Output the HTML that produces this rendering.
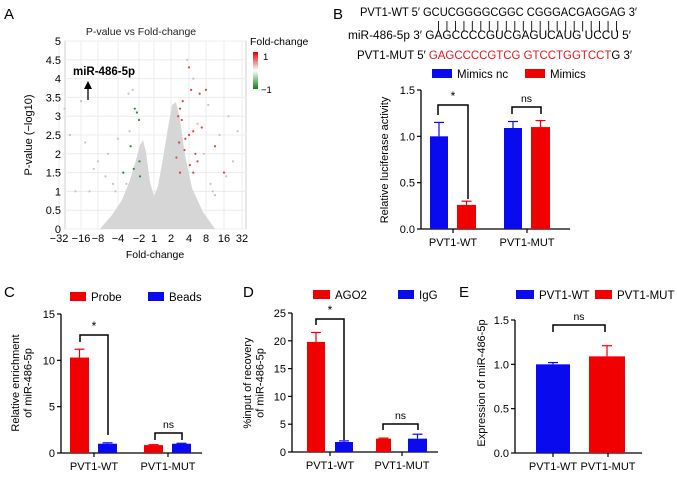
<!DOCTYPE html>
<html><head><meta charset="utf-8"><style>
html,body{margin:0;padding:0;background:#fff}
svg{display:block;font-family:"Liberation Sans",Arial,sans-serif}
</style></head><body>
<svg id="fig" width="677" height="477" viewBox="0 0 677 477" xmlns="http://www.w3.org/2000/svg">
<defs><linearGradient id="cb" x1="0" y1="0" x2="0" y2="1"><stop offset="0" stop-color="#e00000"/><stop offset="0.5" stop-color="#ffffff"/><stop offset="1" stop-color="#108010"/></linearGradient></defs>
<g id="pa">
<text x="4" y="19" font-size="15">A</text>
<text x="141" y="35" font-size="10.5" text-anchor="middle" fill="#222">P-value vs Fold-change</text>
<rect x="65" y="41" width="181" height="188" fill="#fff" stroke="#cfcfcf"/>
<g id="agrid"></g>
<polygon points="100,229 112,215 122,200 130,180 136,160 140,145 143,140 146,152 150,182 154,196 158,186 163,158 168,128 172,105 176,102 180,120 185,155 192,188 203,212 215,229" fill="#d6d6d6"/>
<g id="apts"></g>
<g id="aticks"></g>
<text x="73" y="75" font-size="11.5" font-weight="bold">miR-486-5p</text>
<line x1="88" y1="100" x2="88" y2="88" stroke="#000" stroke-width="1.3"/>
<polygon points="84,89 92,89 88,81" fill="#000"/>
<text x="250" y="45" font-size="10.5">Fold-change</text>
<rect x="253" y="52" width="5" height="37" fill="url(#cb)"/>
<text x="263" y="60" font-size="9.5">1</text>
<text x="261" y="93" font-size="9.5">−1</text>
<text x="32" y="135" font-size="11" text-anchor="middle" transform="rotate(-90 32 135)">P-value (−log10)</text>
<text x="155" y="258" font-size="10.5" text-anchor="middle">Fold-change</text>
</g>
<g font-size="11.5" xml:space="preserve">
<text x="333" y="19" font-size="15">B</text>
<text x="360" y="16" textLength="277" lengthAdjust="spacingAndGlyphs">PVT1-WT 5′ GCUCGGGGCGGC  CGGGACGAGGAG 3′</text>
<text x="437" y="29" font-size="11" textLength="181" lengthAdjust="spacing">| | | | | | | | | | | |   | | | | | |   | | | |</text>
<text x="348" y="39" textLength="283" lengthAdjust="spacingAndGlyphs">miR-486-5p 3′    GAGCCCCGUCGAGUCAUG   UCCU 5′</text>
<text x="357" y="59" textLength="275" lengthAdjust="spacingAndGlyphs">PVT1-MUT 5′  <tspan fill="#e31a1c">GAGCCCCGTCG  GTCCTGGTCCT</tspan>G 3′</text>
</g>
<g id="charts"></g>
<text x="4" y="297" font-size="15">C</text>
<text x="243" y="297" font-size="15">D</text>
<text x="459" y="297" font-size="15">E</text>
</svg>
<script>
const foldTicks = [-32,-16,-8,-4,-2,1,2,4,8,16,32];
const pTicks = [0,0.5,1,1.5,2,2.5,3,3.5,4,4.5,5];
const upFold = [4,4.5,6.5,8,3,3.2,4,5,3.5,6,3,5,16,12,2.8,3.6,7,2.6,3.3,4.2,2.9,5.5];
const upP =    [4.3,3.7,3.6,3.7,3.2,2.9,2.5,2.6,2.1,1.8,1.5,1.5,1.5,2.2,3.0,2.4,2.7,1.9,3.4,1.7,2.3,2.0];
const downFold = [-2.2,-2,-2.5,-3.5,-1.8,-2.8,-2.4,-1.9];
const downP =    [3.1,2.9,1.6,1.5,1.4,2.2,3.2,1.8];
const otherFold = [-16,-24,-14,-28,-20,-6,-3,-2.6,20,24,10,-10,-5,6,-4,9,14,-3.2,5,-12,28,11,-6.5,-8,3.8,7.5,18,-2.9,-4.5,12];
const otherP =    [3.4,2.5,2.3,3.2,1.0,2.0,3.6,3.7,3.0,1.8,1.2,1.6,1.2,2.8,2.4,3.3,2.5,1.2,4.0,1.0,2.6,1.0,1.4,1.8,4.5,2.0,1.4,2.6,1.0,0.9];
const NS='http://www.w3.org/2000/svg';
const tickPx=[59,81,98,118,139,154,171,189,206,224,242];
function ax(v){
  for(let i=0;i<foldTicks.length-1;i++){const a=foldTicks[i],b=foldTicks[i+1];
    if(v>=a&&v<=b){return tickPx[i]+(v-a)/(b-a)*(tickPx[i+1]-tickPx[i]);}}
  return v<0?tickPx[0]:tickPx[tickPx.length-1];}
function ay(p){return 229-p/5*188;}
function mk(tag,attrs,parent){const e=document.createElementNS(NS,tag);for(const k in attrs)e.setAttribute(k,attrs[k]);parent.appendChild(e);return e;}
const ag=document.getElementById('agrid'),at=document.getElementById('aticks'),ap=document.getElementById('apts');
foldTicks.forEach((f,i)=>{
  const l=mk('line',{x1:ax(f),x2:ax(f),y1:41,y2:229,stroke:'#ececec'},ag);
  
  
  const t=mk('text',{x:ax(f),y:242,'font-size':11,'text-anchor':'middle'},at);
  t.textContent=(f<0?'−'+(-f):f);
  
  
});
pTicks.forEach(p=>{
  const l=mk('line',{x1:65,x2:246,y1:ay(p),y2:ay(p),stroke:'#ececec'},ag);
  
  
  const t=mk('text',{x:61,y:ay(p)+4,'font-size':11,'text-anchor':'end'},at);
  t.textContent=p;
  
  
});
function pts(fs,ps,col,name){fs.forEach((f,i)=>{
  const c=mk('circle',{cx:ax(f),cy:ay(ps[i]),r:1.1,fill:col},ap);
  
  });}
pts(otherFold,otherP,'#c4c4c4','volcano-point-ns');
pts(upFold,upP,'#e04040','volcano-point-up');
pts(downFold,downP,'#2a8a3a','volcano-point-down');

const bCats=['PVT1-WT','PVT1-MUT'];
const bSeries=['Mimics nc','Mimics'];
const bMimicsNc=[1.0,1.09], bMimicsNcErr=[0.15,0.07];
const bMimics=[0.26,1.10], bMimicsErr=[0.04,0.07];
const bTicks=['0.0','0.5','1.0','1.5'];
const cSeries=['Probe','Beads'];
const cProbe=[10.3,0.85], cProbeErr=[0.9,0.05];
const cBeads=[1.0,1.0], cBeadsErr=[0.1,0.05];
const cTicks=['0','5','10','15'];
const dSeries=['AGO2','IgG'];
const dAgo2=[19.8,2.4], dAgo2Err=[1.7,0.1];
const dIgg=[1.8,2.4], dIggErr=[0.2,0.8];
const dTicks=['0','5','10','15','20','25'];
const eCats=['PVT1-WT','PVT1-MUT'];
const eVals=[1.0,1.09], eErr=[0.02,0.12];
const eTicks=['0.0','0.5','1.0','1.5'];
const RED='#f00000',BLUE='#0a0aee';
const root=document.getElementById('charts');
function chart(o){
  const g=mk('g',{},root);
  
  
  const max=parseFloat(o.ticks[o.ticks.length-1]);
  const y=v=>o.y0-v/max*(o.y0-o.y1);
  o.ticks.forEach(t=>{const v=parseFloat(t);
    const l=mk('line',{x1:o.x0-4,x2:o.x0,y1:y(v),y2:y(v),stroke:'#000','stroke-width':1.2},g);
    
    
    const tx=mk('text',{x:o.x0-6,y:y(v)+4,'font-size':11,'text-anchor':'end'},g);tx.textContent=t;
    
    });
  const ya=mk('line',{x1:o.x0,x2:o.x0,y1:o.y1,y2:o.y0,stroke:'#000','stroke-width':1.3},g);
  
  
  const xa=mk('line',{x1:o.x0,x2:o.x1,y1:o.y0,y2:o.y0,stroke:'#000','stroke-width':1.3},g);
  
  
  o.bars.forEach(b=>{
    const r=mk('rect',{x:b.x,y:y(b.v),width:b.w,height:o.y0-y(b.v),fill:b.c},g);
    
    
    const cx=b.x+b.w/2,top=y(b.v+b.e);
    const e1=mk('line',{x1:cx,x2:cx,y1:y(b.v),y2:top,stroke:b.c,'stroke-width':1.2},g);
    
    
    const e2=mk('line',{x1:cx-5,x2:cx+5,y1:top,y2:top,stroke:b.c,'stroke-width':1.2},g);
    
    });
  o.cats.forEach((c,i)=>{
    const tm=mk('line',{x1:o.cx[i],x2:o.cx[i],y1:o.y0,y2:o.y0+4,stroke:'#000','stroke-width':1.2},g);
    
    
    const t=mk('text',{x:o.cx[i],y:o.y0+17,'font-size':11,'text-anchor':'middle'},g);t.textContent=c;
    
    });
  o.brackets.forEach(br=>{
    const p=mk('polyline',{points:`${br.x1},${br.l1} ${br.x1},${br.y} ${br.x2},${br.y} ${br.x2},${br.l2}`,fill:'none',stroke:'#000','stroke-width':1.5},g);
    
    
    const t=mk('text',{x:(br.x1+br.x2)/2,y:br.y-5,'font-size':br.t=='*'?12:10.5,'text-anchor':'middle'},g);t.textContent=br.t;
    
    });
  o.legend.forEach(l=>{
    const r=mk('rect',{x:l.x,y:l.y-8,width:l.w,height:9,fill:l.c},g);
    
    
    const t=mk('text',{x:l.x+l.w+5,y:l.y+1,'font-size':11.5},g);t.textContent=l.t;
    
    });
  o.ylab.forEach((s,i)=>{
    const t=mk('text',{x:o.lx+i*12.5,y:o.ly,'font-size':11,'text-anchor':'middle',transform:`rotate(-90 ${o.lx+i*12.5} ${o.ly})`},g);t.textContent=s;
    
    });
}
chart({name:'luciferase-chart',x0:421,x1:570,y0:229,y1:90,ticks:bTicks,cats:bCats,cx:[453,527],
 bars:[{x:430,w:18,v:bMimicsNc[0],e:bMimicsNcErr[0],c:BLUE},{x:457,w:19,v:bMimics[0],e:bMimicsErr[0],c:RED},
       {x:504,w:18,v:bMimicsNc[1],e:bMimicsNcErr[1],c:BLUE},{x:531,w:19,v:bMimics[1],e:bMimicsErr[1],c:RED}],
 brackets:[{x1:438,x2:468,y:105,l1:115,l2:199,t:'*'},{x1:512,x2:541,y:107,l1:114,l2:114,t:'ns'}],
 legend:[{x:432,y:77,w:20,c:BLUE,t:bSeries[0]},{x:525,y:77,w:20,c:RED,t:bSeries[1]}],
 ylab:['Relative luciferase activity'],lx:388,ly:160});
chart({name:'enrichment-chart',x0:61,x1:202,y0:453,y1:314,ticks:cTicks,cats:bCats,cx:[94,168],
 bars:[{x:70,w:19,v:cProbe[0],e:cProbeErr[0],c:RED},{x:98,w:19,v:cBeads[0],e:cBeadsErr[0],c:BLUE},
       {x:144,w:19,v:cProbe[1],e:cProbeErr[1],c:RED},{x:172,w:19,v:cBeads[1],e:cBeadsErr[1],c:BLUE}],
 brackets:[{x1:80,x2:108,y:335,l1:342,l2:435,t:'*'},{x1:155,x2:182,y:433,l1:440,l2:440,t:'ns'}],
 legend:[{x:70,y:300,w:16,c:RED,t:cSeries[0]},{x:148,y:300,w:16,c:BLUE,t:cSeries[1]}],
 ylab:['Relative enrichment','of miR-486-5p'],lx:19,ly:383});
chart({name:'ago2-rip-chart',x0:292,x1:438,y0:452,y1:313,ticks:dTicks,cats:bCats,cx:[330,402],
 bars:[{x:307,w:18,v:dAgo2[0],e:dAgo2Err[0],c:RED},{x:335,w:18,v:dIgg[0],e:dIggErr[0],c:BLUE},
       {x:376,w:15,v:dAgo2[1],e:dAgo2Err[1],c:RED},{x:408,w:19,v:dIgg[1],e:dIggErr[1],c:BLUE}],
 brackets:[{x1:316,x2:344,y:319,l1:325,l2:440,t:'*'},{x1:383,x2:418,y:424,l1:430,l2:430,t:'ns'}],
 legend:[{x:313,y:298,w:17,c:RED,t:dSeries[0]},{x:398,y:298,w:16,c:BLUE,t:dSeries[1]}],
 ylab:['%input of recovery','of miR-486-5p'],lx:251,ly:383});
chart({name:'expression-chart',x0:515,x1:642,y0:453,y1:320,ticks:eTicks,cats:eCats,cx:[553,608],
 bars:[{x:536,w:34,v:eVals[0],e:eErr[0],c:BLUE},{x:589,w:36,v:eVals[1],e:eErr[1],c:RED}],
 brackets:[{x1:553,x2:605,y:325,l1:332,l2:332,t:'ns'}],
 legend:[{x:516,y:298,w:18,c:BLUE,t:eCats[0]},{x:595,y:298,w:17,c:RED,t:eCats[1]}],
 ylab:['Expression of miR-486-5p'],lx:485,ly:383});
</script>
</body></html>
